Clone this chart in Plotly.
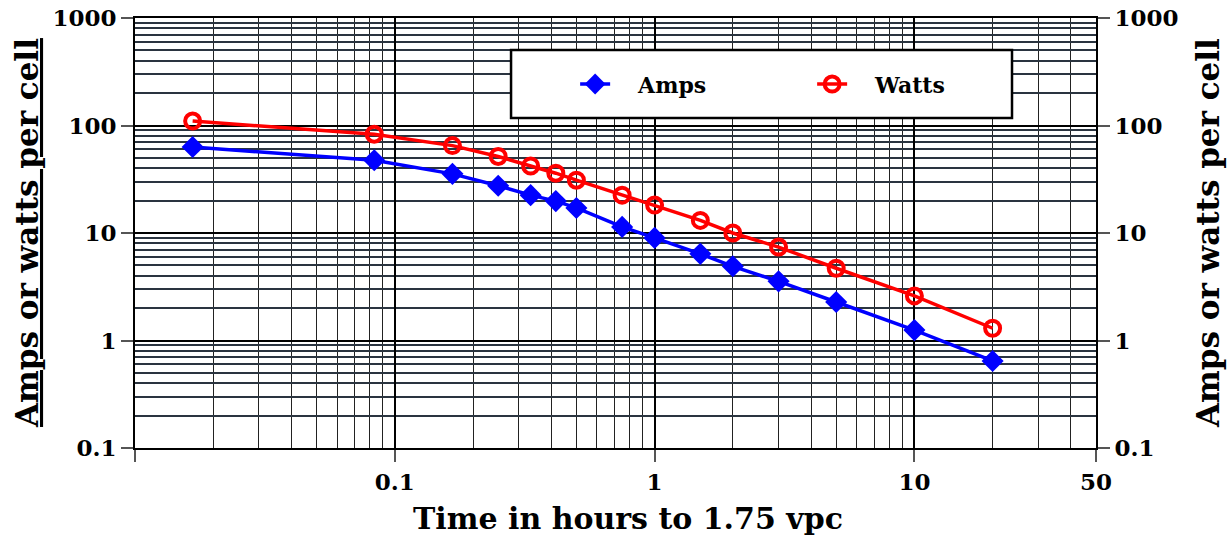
import numpy as np
import plotly.graph_objects as go

# Time in hours to 1.75 vpc
hours = [1/60, 5/60, 10/60, 15/60, 20/60, 25/60, 30/60, 45/60, 1, 1.5, 2, 3, 5, 10, 20]
amps = [63, 47.5, 35.5, 27.5, 22.5, 19.8, 17.1, 11.4, 9.0, 6.4, 4.9, 3.55, 2.28, 1.25, 0.645]
watts = [110, 83, 65, 51.5, 42, 36, 31, 22.5, 18.2, 13.1, 10.0, 7.4, 4.7, 2.6, 1.3]

x_tickvals = [0.01, 0.1, 1, 10, 50]
x_ticktext = ["", "0.1", "1", "10", "50"]
y_tickvals = [0.1, 1, 10, 100, 1000]
y_ticktext = ["0.1", "1", "10", "100", "1000"]

x_minor = [m * d for d in [0.01, 0.1, 1] for m in range(2, 10)] + [20, 30, 40]
y_minor = [m * d for d in [0.1, 1, 10, 100] for m in range(2, 10)]

FONT = "DejaVu Serif"

fig = go.Figure()
fig.add_trace(go.Scatter(
    x=hours, y=amps, name="\u00a0\u00a0\u00a0Amps", mode="lines+markers",
    line=dict(color="#0000ff", width=3.5),
    marker=dict(symbol="diamond", size=17, color="#0000ff"),
))
fig.add_trace(go.Scatter(
    x=hours, y=watts, name="\u00a0\u00a0\u00a0Watts", mode="lines+markers",
    line=dict(color="#ff0000", width=3.5),
    marker=dict(symbol="circle-open", size=15, color="#ff0000", line=dict(width=4, color="#ff0000")),
))
# invisible trace to draw the right-hand axis
fig.add_trace(go.Scatter(
    x=[hours[0]], y=[amps[0]], yaxis="y2", mode="markers",
    marker=dict(opacity=0), showlegend=False, hoverinfo="skip",
))

axis_common = dict(
    type="log", showline=True, linecolor="black", linewidth=2,
    ticks="outside", ticklen=12, tickwidth=2, tickcolor="#555555",
    tickfont=dict(family=FONT, size=23, color="black", weight="bold"),
    zeroline=False, automargin=False,
)

fig.update_layout(
    width=1227, height=537,
    margin=dict(l=135, r=131, t=18, b=89),
    paper_bgcolor="white", plot_bgcolor="white",
    font=dict(family=FONT, color="black"),
    showlegend=True,
    xaxis=dict(
        **axis_common, range=[-2, np.log10(50)], mirror=True,
        tickmode="array", tickvals=x_tickvals, ticktext=x_ticktext,
        showgrid=True, gridcolor="black", gridwidth=2,
        minor=dict(tickmode="array", tickvals=x_minor, showgrid=True, gridcolor="#222222", gridwidth=1.3, ticks=""),
    ),
    yaxis=dict(
        **axis_common, range=[-1, 3], mirror=True,
        tickmode="array", tickvals=y_tickvals, ticktext=y_ticktext,
        showgrid=True, gridcolor="black", gridwidth=2.2,
        minor=dict(tickmode="array", tickvals=y_minor, showgrid=True, gridcolor="#2a3440", gridwidth=1.5, ticks=""),
    ),
    yaxis2=dict(
        **axis_common, range=[-1, 3], overlaying="y", side="right",
        tickmode="array", tickvals=y_tickvals, ticktext=y_ticktext,
        showgrid=False,
    ),
    legend=dict(
        orientation="h", x=0.458, y=0.846, xanchor="left", yanchor="middle",
        bgcolor="rgba(0,0,0,0)", borderwidth=0,
        font=dict(family=FONT, size=22, color="black", weight="bold"),
        entrywidth=192, entrywidthmode="pixels",
    ),
    shapes=[dict(
        type="rect", xref="paper", yref="paper",
        x0=0.3913, x1=0.9126, y0=0.7674, y1=0.9256,
        line=dict(color="black", width=2.5), fillcolor="white", layer="above",
    )],
    annotations=[
        dict(text="<b>Time in hours to 1.75 vpc</b>", xref="paper", yref="paper",
             x=0.513, y=-0.163, xanchor="center", yanchor="middle", showarrow=False,
             font=dict(family=FONT, size=30, color="black")),
        dict(text="<b><u>Amps or watts per cell</u></b>", xref="paper", yref="paper",
             x=-0.1124, y=0.5, xanchor="center", yanchor="middle", showarrow=False, textangle=-90,
             font=dict(family=FONT, size=31, color="black")),
        dict(text="<b>Amps or watts per cell</b>", xref="paper", yref="paper",
             x=1.1166, y=0.5, xanchor="center", yanchor="middle", showarrow=False, textangle=-90,
             font=dict(family=FONT, size=31, color="black")),
    ],
)

fig.write_html("out.html", config={"displayModeBar": False},
               post_script="document.body.style.margin='0';")
